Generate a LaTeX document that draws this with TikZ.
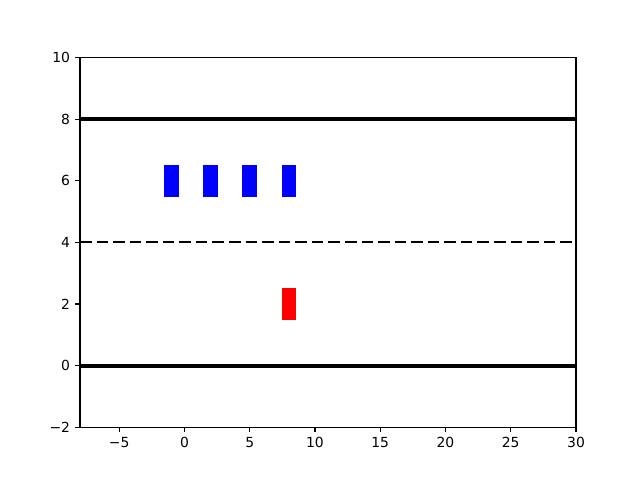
\documentclass[tikz,border=0pt]{standalone}
\usepackage{fontspec}
\setmainfont{DejaVu Sans}
\begin{document}
\begin{tikzpicture}[
  x=1pt,y=1pt,
  ticklab/.style={font=\fontsize{13.9}{16}\selectfont, inner sep=0pt},
  tickmark/.style={line width=1.11pt, black},
  road/.style={line width=4.17pt, black},
  lane/.style={line width=2.08pt, black, dash pattern=on 11.56pt off 5pt},
  car/.style={line width=1.39pt},
]
\useasboundingbox (0,0) rectangle (640,480);
\fill[white] (0,0) rectangle (640,480);
\begin{scope}[shift={(184.42pt,114.4pt)}, x=13.0526pt, y=30.8pt]
  \begin{scope}
    \clip (-8,-2) rectangle (30,10);
    \draw[road] (-8,8) -- (30,8);
    \draw[road] (-8,0) -- (30,0);
    \draw[lane] (-8,4) -- (30,4);
  \end{scope}
  \foreach \cx in {-1,2,5,8}
    \filldraw[car, fill=blue, draw=blue] (\cx-0.5,5.5) rectangle (\cx+0.5,6.5);
  \filldraw[car, fill=red, draw=red] (7.5,1.5) rectangle (8.5,2.5);
  % spines
  \draw[line width=1.11pt, line join=miter] (-8,-2) rectangle (30,10);
  % x ticks
  \foreach \t/\lab in {-5/−5,0/0,5/5,10/10,15/15,20/20,25/25,30/30} {
    \draw[tickmark] (\t,-2) -- ++(0,-4.86pt);
    \node[ticklab, anchor=north] at ([yshift=-9.72pt]\t,-2) {\lab};
  }
  % y ticks
  \foreach \t/\lab in {-2/−2,0/0,2/2,4/4,6/6,8/8,10/10} {
    \draw[tickmark] (-8,\t) -- ++(-4.86pt,0);
    \node[ticklab, anchor=east] at ([xshift=-9.72pt]-8,\t) {\lab};
  }
\end{scope}
\end{tikzpicture}
\end{document}
